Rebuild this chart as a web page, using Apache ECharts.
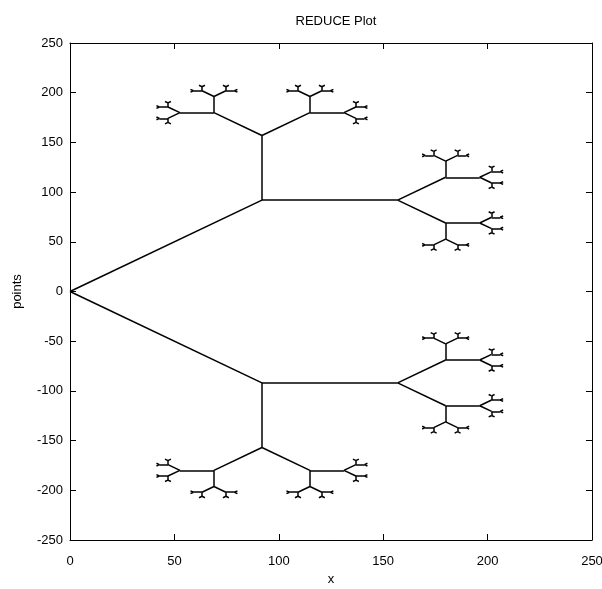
<!DOCTYPE html>
<html>
<head>
<meta charset="utf-8">
<script src="https://cdn.jsdelivr.net/npm/echarts@6/dist/echarts.min.js"></script>
<style>
  html, body { margin: 0; padding: 0; background: #fff; }
  #chart { width: 602px; height: 589px; }
</style>
</head>
<body>
<div id="chart"></div>
<script>
// branch length at each level of the tree (data units)
const branchLengths = [130, 65, 32.5, 16.3, 8.1, 4.1, 2.0];
const turnAngle = 45;          // degrees each branch turns left / right
const rootPoint = [0, 0];
const rootHeading = 0;

const xTicks = [0, 50, 100, 150, 200, 250];
const yTicks = [-250, -200, -150, -100, -50, 0, 50, 100, 150, 200, 250];

const FONT = "'Liberation Sans Narrow', 'Liberation Sans', Arial, sans-serif";

// walk the tree: every node sprouts two branches, +turn and -turn
const segments = [];
function grow(pt, heading, level) {
  if (level >= branchLengths.length) return;
  const len = branchLengths[level];
  for (const turn of [turnAngle, -turnAngle]) {
    const h = heading + turn;
    const rad = h * Math.PI / 180;
    const end = [pt[0] + len * Math.cos(rad), pt[1] + len * Math.sin(rad)];
    segments.push({ coords: [pt, end] });
    grow(end, h, level + 1);
  }
}
grow(rootPoint, rootHeading, 0);

const chart = echarts.init(document.getElementById("chart"), null, { renderer: "canvas" });

const axisLine = { show: true, onZero: false, lineStyle: { color: "#000", width: 1 } };
const axisTick = { show: true, inside: true, length: 6, lineStyle: { color: "#000", width: 1 } };
const labelStyle = { color: "#000", fontFamily: FONT, fontSize: 13 };

chart.setOption({
  animation: false,
  backgroundColor: "#fff",
  title: {
    text: "REDUCE Plot",
    left: 331,
    top: 10,
    textAlign: "center",
    textStyle: { fontFamily: FONT, fontSize: 13, fontWeight: "normal", color: "#000" }
  },
  grid: { left: 70, right: 10, top: 43, bottom: 49, containLabel: false, outerBoundsMode: "none" },
  xAxis: [
    {
      type: "value", min: xTicks[0], max: xTicks[xTicks.length - 1], interval: 50,
      name: "x", nameLocation: "middle", nameGap: 32,
      nameTextStyle: labelStyle,
      axisLine, axisTick,
      axisLabel: Object.assign({ margin: 15 }, labelStyle),
      splitLine: { show: false }
    },
    {
      type: "value", position: "top", min: xTicks[0], max: xTicks[xTicks.length - 1], interval: 50,
      axisLine, axisTick, axisLabel: { show: false }, splitLine: { show: false }
    }
  ],
  yAxis: [
    {
      type: "value", min: yTicks[0], max: yTicks[yTicks.length - 1], interval: 50,
      name: "points", nameLocation: "middle", nameGap: 46, nameRotate: 90,
      nameTextStyle: labelStyle,
      axisLine, axisTick,
      axisLabel: Object.assign({ margin: 7 }, labelStyle),
      splitLine: { show: false }
    },
    {
      type: "value", position: "right", min: yTicks[0], max: yTicks[yTicks.length - 1], interval: 50,
      axisLine, axisTick, axisLabel: { show: false }, splitLine: { show: false }
    }
  ],
  series: [
    {
      type: "lines",
      coordinateSystem: "cartesian2d",
      xAxisIndex: 0,
      yAxisIndex: 0,
      polyline: false,
      silent: true,
      lineStyle: { color: "#000", width: 1.5, opacity: 1 },
      data: segments
    }
  ]
});
</script>
</body>
</html>
